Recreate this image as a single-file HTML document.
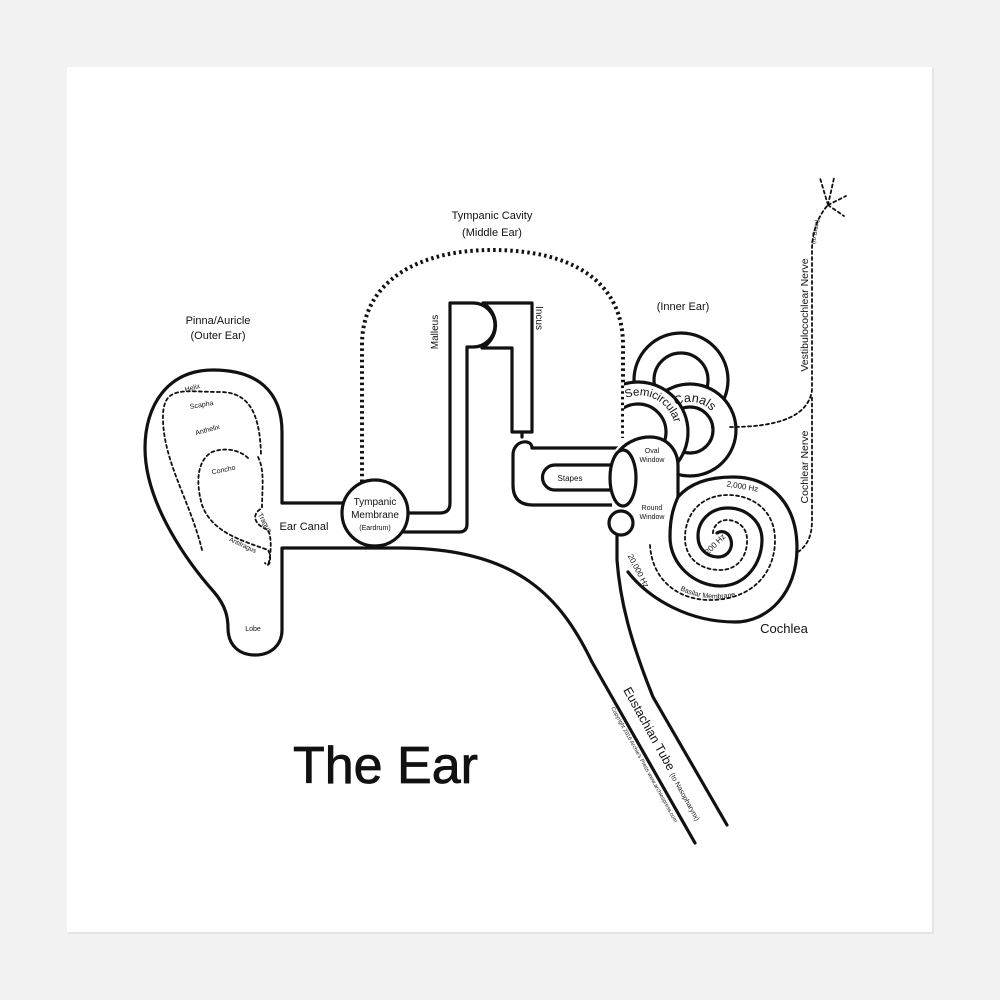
<!DOCTYPE html>
<html><head><meta charset="utf-8"><style>
html,body{margin:0;padding:0;background:#f2f2f2;}
svg{display:block;}
text{font-family:"Liberation Sans",sans-serif;fill:#111;}
</style></head><body>
<svg width="1000" height="1000" viewBox="0 0 1000 1000" xmlns="http://www.w3.org/2000/svg">
<rect x="0" y="0" width="1000" height="1000" fill="#f2f2f2"/>
<rect x="68" y="68" width="866" height="866" fill="#e4e4e4"/>
<rect x="67" y="67" width="865" height="865" fill="#ffffff"/>

<g fill="none" stroke="#111" stroke-width="3.2" stroke-linejoin="round" stroke-linecap="round">
<path d="M362,482 L362,345 C362,280 420,250 492,250 C570,250 623,280 623,345 L623,438" stroke-width="4" stroke-dasharray="2.5 3.2" stroke-linecap="butt"/>

<path d="M282,503 L282,432 C282,392 258,370 213,370 C168,370 145,405 145,448 C145,505 190,565 214,592 C226,606 228,618 228,628 C228,646 240,655 255,655 C272,655 282,644 282,630 L282,548 L400,548 C520,548 562,600 592,662 L695,843"/>
<path d="M282,503 L345,503"/>
<g stroke-width="1.8" stroke-dasharray="3 3">
<path d="M202,550 C190,500 162,460 163,415 C164,385 185,392 220,392 C250,392 260,415 261,455"/>
<path d="M248,458 C240,450 225,447 212,452 C198,460 195,480 202,505 C212,532 240,540 268,550 C272,556 270,570 265,563"/>
<path d="M258,457 C265,470 262,490 262,508 C250,515 255,525 268,530 C273,540 270,560 268,565"/>
</g>

<circle cx="375" cy="513" r="33" fill="#fff"/>

<path d="M408,513 L440,513 Q450,513 450,503 L450,303 L473,303 A22,22 0 0 1 473,347 L467,347 L467,524 Q467,532 459,532 L404,532"/>
<path d="M483,303 A26,26 0 0 1 482,348 L512,348 L512,432 L532,432 L532,303 Z"/>
<path d="M522,432 L522,437"/>
<path d="M513,455 C513,440 532,438 532,448 L617,448"/>
<path d="M513,455 L513,485 Q513,505 533,505 L617,505"/>
<path d="M610,465 L555,465 A12.5,12.5 0 0 0 555,490 L610,490"/>

<circle cx="681" cy="380" r="47" fill="#fff"/>
<circle cx="681" cy="380" r="27" fill="#fff"/>
<circle cx="690" cy="430" r="46" fill="#fff"/>
<circle cx="690" cy="430" r="23" fill="#fff"/>
<clipPath id="c2"><rect x="624" y="300" width="120" height="200"/></clipPath>
<g clip-path="url(#c2)">
<circle cx="638" cy="432" r="50" fill="#fff"/>
<circle cx="638" cy="432" r="28" fill="#fff"/>
</g>

<path d="M612,455 Q620,437 650,437 Q678,437 678,466 L678,500 L668,545 L628,572 L612,540 Z" fill="#fff" stroke="none"/>
<path d="M620,450 C628,441 640,437 650,437 C667,437 678,450 678,466 L678,497"/>
<path d="M678,497 C690,483 710,477 733,477 C772,477 797,505 797,548 C797,593 768,622 735,622 C690,622 650,600 628,572" fill="none"/>
<path d="M678,497 C672,510 670,522 670,537 C670,565 695,586 720,586 C746,586 762,563 762,540 C762,521 746,508 728,508 C709,508 698,522 698,536 C698,550 708,557 718,557 C728,557 733,548 731,540 C729,532 722,530 717,533"/>
<path d="M617,535 L617,560 C620,600 630,640 653,697 L727,825"/>
<ellipse cx="623" cy="478" rx="13" ry="28" fill="#fff"/>
<circle cx="621" cy="523" r="12" fill="#fff"/>

<path d="M650,545 C652,580 678,600 710,600 C750,600 775,575 775,540 C775,510 752,495 728,495 C700,495 685,515 685,538 C685,558 700,570 720,570 C740,570 748,553 747,538 C746,525 735,520 727,520 C718,520 712,528 713,535" stroke-width="1.8" stroke-dasharray="3 3"/>

<g stroke-width="1.8" stroke-dasharray="3 3">
<path d="M730,427 C770,427 808,420 812,390 L812,250 C812,232 818,216 828,205"/>
<path d="M798,552 C808,545 812,535 812,520 L812,395"/>
<path d="M828,205 L820,178 M828,205 L834,178 M828,205 L846,196 M828,205 L844,216"/>
</g>
</g>

<defs>
<path id="sc" d="M626,398 A36,36 0 0 1 673,444"/>
<path id="ca" d="M676,406 A28,28 0 0 1 718.5,432"/>
<path id="bm" d="M680,590 Q712,606 750,592"/>
</defs>
<text font-size="11.5" letter-spacing="-0.2"><textPath href="#sc">Semicircular</textPath></text>
<text font-size="12.5"><textPath href="#ca">Canals</textPath></text>
<text font-size="7"><textPath href="#bm">Basilar Membrane</textPath></text>

<g text-anchor="middle">
<text x="492" y="219" font-size="11">Tympanic Cavity</text>
<text x="492" y="236" font-size="11">(Middle Ear)</text>
<text x="218" y="324" font-size="11">Pinna/Auricle</text>
<text x="218" y="339" font-size="11">(Outer Ear)</text>
<text x="683" y="310" font-size="11">(Inner Ear)</text>
<text x="193" y="390" font-size="7" transform="rotate(-15 193 390)">Helix</text>
<text x="202" y="407" font-size="7" transform="rotate(-10 202 407)">Scapha</text>
<text x="208" y="432" font-size="7" transform="rotate(-15 208 432)">Anthelix</text>
<text x="224" y="472" font-size="7" transform="rotate(-12 224 472)">Concho</text>
<text x="263" y="524" font-size="7" transform="rotate(60 263 524)">Tragus</text>
<text x="242" y="547" font-size="6.5" transform="rotate(25 242 547)">Antitragus</text>
<text x="253" y="631" font-size="7">Lobe</text>
<text x="304" y="530" font-size="11">Ear Canal</text>
<text x="375" y="505" font-size="10">Tympanic</text>
<text x="375" y="518" font-size="10">Membrane</text>
<text x="375" y="530" font-size="7">(Eardrum)</text>
<text x="438" y="332" font-size="10" transform="rotate(-90 438 332)">Malleus</text>
<text x="536" y="318" font-size="10" transform="rotate(90 536 318)">Incus</text>
<text x="570" y="481" font-size="8">Stapes</text>
<text x="652" y="453" font-size="7">Oval</text>
<text x="652" y="462" font-size="7">Window</text>
<text x="652" y="510" font-size="7">Round</text>
<text x="652" y="519" font-size="7">Window</text>
<text x="742" y="489" font-size="8" transform="rotate(10 742 489)">2,000 Hz</text>
<text x="717" y="546" font-size="8" transform="rotate(-45 717 546)">200 Hz</text>
<text x="636" y="572" font-size="8" transform="rotate(62 636 572)">20,000 Hz</text>
<text x="784" y="633" font-size="13">Cochlea</text>
<text x="808" y="315" font-size="10.5" transform="rotate(-90 808 315)">Vestibulocochlear Nerve</text>
<text x="817" y="232" font-size="6" transform="rotate(-80 817 232)">(to Brain)</text>
<text x="808" y="467" font-size="10.5" transform="rotate(-90 808 467)">Cochlear Nerve</text>
</g>
<text x="623" y="690" font-size="12.5" transform="rotate(61 623 690)">Eustachian Tube <tspan font-size="7">(to Nasopharynx)</tspan></text>
<text x="611" y="708" font-size="5.5" transform="rotate(61 611 708)">Copyright 2016 Archie's Press www.archiespress.com</text>
<text x="293" y="783" font-size="52" stroke="#111" stroke-width="0.8">The Ear</text>
</svg>
</body></html>
